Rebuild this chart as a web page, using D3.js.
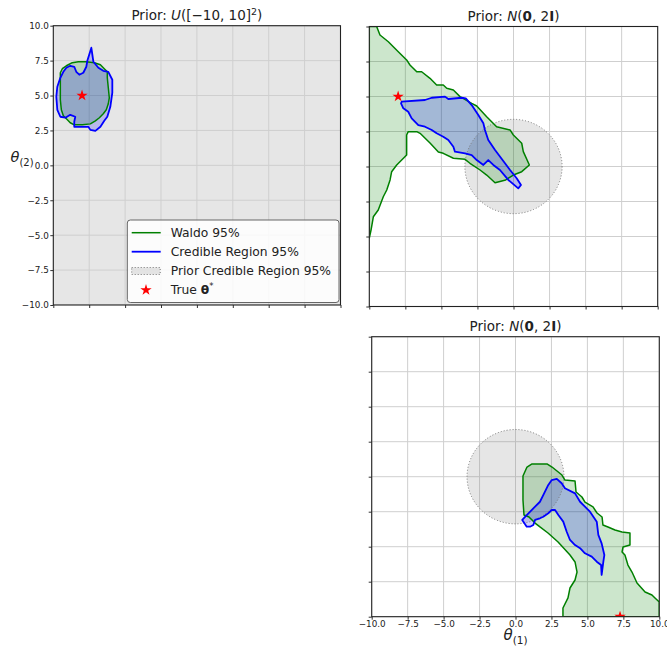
<!DOCTYPE html>
<html>
<head>
<meta charset="utf-8">
<script src="https://cdn.jsdelivr.net/npm/d3@7"></script>
<style>
    body { margin: 0; background: #ffffff; }
    svg text { font-family: "DejaVu Sans", sans-serif; fill: #222; }
</style>
</head>
<body>
<svg id="chart" width="667" height="646"></svg>
<script>
// tick positions shared by every panel (theta in [-10, 10])
var TICKS = [-10, -7.5, -5, -2.5, 0, 2.5, 5, 7.5, 10];
var TICK_LABELS = ["\u221210.0", "\u22127.5", "\u22125.0", "\u22122.5", "0.0", "2.5", "5.0", "7.5", "10.0"];

var LEGEND_LABELS = ["Waldo 95%", "Credible Region 95%", "Prior Credible Region 95%", "True "];

// true parameter per panel
var trueThetaUniform = [-8, 5];
var trueThetaNormalTop = [-8, 5];
var trueThetaNormalBottom = [7.27, -10];

// radius of the 95% region of N(0, 2I)
var priorRadius = 3.37;
var uniformBounds = [-10, 10];

// contours (theta1, theta2)
var waldoUniform = [[-9.51,6.63],[-9.37,6.92],[-9.09,7.13],[-8.68,7.35],[-8.26,7.42],[-7.70,7.42],[-7.14,7.35],
    [-6.72,7.20],[-6.45,6.92],[-6.24,6.70],[-6.24,6.27],[-6.17,5.56],[-6.10,4.84],[-6.17,4.41],[-6.31,3.98],
    [-6.52,3.69],[-6.79,3.41],[-7.07,3.19],[-7.42,2.97],[-7.98,2.90],[-8.54,2.90],[-8.82,3.05],[-9.02,3.26],
    [-9.30,3.55],[-9.44,3.98],[-9.51,4.70],[-9.51,5.56],[-9.51,6.13]];
var credibleUniform = [[-7.35,8.42],[-7.63,7.49],[-7.70,7.06],[-7.91,6.63],[-8.19,6.49],[-8.40,6.70],[-8.54,7.06],
    [-8.82,7.13],[-9.09,6.99],[-9.30,6.70],[-9.51,6.27],[-9.72,5.63],[-9.79,4.91],[-9.72,3.98],[-9.51,3.48],
    [-9.16,3.41],[-8.82,3.62],[-8.47,3.48],[-8.54,3.12],[-8.54,2.76],[-7.56,2.76],[-7.42,2.54],[-7.07,2.47],
    [-6.72,2.76],[-6.45,3.19],[-6.24,3.48],[-6.03,4.19],[-5.89,5.20],[-5.89,6.13],[-6.17,6.70],[-6.52,6.77],
    [-6.86,6.99],[-7.21,7.42],[-7.28,7.92]];

var waldoNormalTop = [[-10,10],[-9.49,10],[-9.26,9.39],[-8.68,8.91],[-7.99,8.20],[-7.41,7.61],[-7.18,7.25],
    [-6.71,6.77],[-6.37,6.77],[-5.79,6.30],[-5.33,5.82],[-4.87,5.82],[-4.63,5.59],[-4.17,5.46],[-3.71,4.99],
    [-2.90,4.51],[-2.55,4.32],[-1.86,3.56],[-1.17,2.84],[-0.24,2.61],[-0.01,2.25],[0.57,1.66],[0.68,1.06],
    [1.10,0.11],[0.57,-0.37],[-0.01,-0.61],[-0.54,-0.96],[-1.28,-1.16],[-1.86,-0.61],[-2.32,-0.25],[-3.02,0.23],
    [-3.36,0.51],[-4.17,0.59],[-4.87,0.94],[-5.21,1.04],[-5.79,1.68],[-6.48,2.37],[-6.71,2.49],[-7.30,2.49],
    [-7.41,2.25],[-7.41,0.82],[-8.10,0.11],[-8.45,-0.37],[-8.56,-0.96],[-8.79,-1.68],[-9.03,-2.16],[-9.38,-3.11],
    [-9.72,-3.59],[-9.88,-4.54],[-10,-5.11]];
var credibleNormalTop = [[-7.80,4.51],[-7.75,4.63],[-6.14,4.75],[-5.67,4.91],[-4.75,4.99],[-4.52,4.82],[-3.59,4.91],
    [-3.31,4.87],[-2.90,4.39],[-2.44,3.68],[-2.09,3.09],[-1.98,2.61],[-1.75,1.89],[-1.28,1.18],[-0.59,0.23],
    [-0.24,-0.25],[0.22,-0.84],[0.52,-1.32],[0.33,-1.56],[-0.36,-0.96],[-0.94,-0.25],[-1.40,0.11],[-1.75,0.46],
    [-2.09,0.11],[-2.55,0.46],[-2.90,0.82],[-3.36,0.94],[-4.06,1.06],[-4.17,1.41],[-4.52,1.89],[-4.87,2.13],
    [-5.33,2.37],[-5.67,2.61],[-6.14,2.84],[-6.60,2.96],[-7.06,3.44],[-7.30,3.91],[-7.64,4.16]];

var waldoNormalBottom = [[0.52,-1.66],[0.52,0.05],[0.80,0.69],[1.15,0.91],[2.19,0.91],[2.54,0.69],[3.23,0.12],
    [3.44,-0.24],[4.14,-0.31],[4.21,-1.09],[4.62,-1.45],[4.83,-1.81],[5.39,-2.16],[5.67,-2.59],[6.02,-2.88],
    [6.08,-3.45],[6.43,-3.59],[6.92,-3.81],[7.41,-3.95],[7.96,-4.02],[7.96,-4.88],[7.48,-5.02],[7.41,-5.38],
    [7.61,-5.59],[7.82,-6.31],[8.10,-6.81],[8.45,-7.59],[9.01,-8.24],[9.49,-8.45],[9.70,-8.66],[10,-8.95],
    [10,-10],[3.30,-10],[3.30,-9.38],[3.65,-8.66],[3.79,-7.95],[4.14,-7.38],[4.28,-6.81],[4.14,-6.09],
    [3.79,-5.59],[2.96,-4.66],[2.26,-4.02],[1.70,-3.59],[1.36,-3.31],[0.94,-2.88],[0.59,-2.74]];
var credibleNormalBottom = [[0.47,-3.09],[0.78,-2.74],[1.36,-2.14],[1.70,-1.79],[1.93,-1.31],[2.28,-0.59],
    [2.52,-0.24],[2.87,-0.16],[3.21,-0.47],[3.44,-0.83],[4.14,-1.19],[4.49,-1.79],[4.83,-2.14],[5.18,-2.50],
    [5.65,-3.21],[5.76,-4.16],[5.99,-4.76],[6.18,-5.59],[6.11,-6.07],[5.99,-7.02],[5.95,-6.31],[5.65,-6.07],
    [5.30,-5.71],[4.83,-5.47],[4.49,-5.11],[4.14,-4.88],[3.79,-4.52],[3.56,-3.93],[3.32,-3.21],[2.98,-2.74],
    [2.75,-2.38],[2.52,-2.38],[2.28,-2.61],[1.93,-2.86],[1.70,-2.97],[1.36,-3.09],[1.24,-3.45],[1.01,-3.57],
    [0.78,-3.57]];

var WALDO_COLOR = "green";
var CREDIBLE_COLOR = "blue";
var PRIOR_FILL = "rgba(128,128,128,0.2)";

var svg = d3.select("#chart");

function drawStar(g, cx, cy) {
    g.append("path")
        .attr("d", d3.symbol().type(d3.symbolStar).size(40)())
        .attr("transform", "translate(" + cx + "," + cy + ")")
        .attr("fill", "red");
}

function drawPanel(cfg) {
    var x = d3.scaleLinear().domain([-10, 10]).range([cfg.left, cfg.right]);
    var y = d3.scaleLinear().domain([-10, 10]).range([cfg.bottom, cfg.top]);
    var line = d3.line().x(function(d) { return x(d[0]); }).y(function(d) { return y(d[1]); });

    svg.append("clipPath").attr("id", "clip-" + cfg.id)
        .append("rect")
        .attr("x", cfg.left).attr("y", cfg.top)
        .attr("width", cfg.right - cfg.left).attr("height", cfg.bottom - cfg.top);

    var g = svg.append("g").attr("clip-path", "url(#clip-" + cfg.id + ")");

    // uniform prior covers the whole box
    if (cfg.uniform) {
        g.append("rect")
            .attr("x", x(uniformBounds[0])).attr("y", y(uniformBounds[1]))
            .attr("width", x(uniformBounds[1]) - x(uniformBounds[0]))
            .attr("height", y(uniformBounds[0]) - y(uniformBounds[1]))
            .attr("fill", PRIOR_FILL);
    }

    // grid
    g.selectAll(".vgrid").data(TICKS).enter().append("line")
        .attr("x1", x).attr("x2", x).attr("y1", cfg.top).attr("y2", cfg.bottom)
        .attr("stroke", "#cfcfcf").attr("stroke-width", 1);
    g.selectAll(".hgrid").data(TICKS).enter().append("line")
        .attr("y1", y).attr("y2", y).attr("x1", cfg.left).attr("x2", cfg.right)
        .attr("stroke", "#cfcfcf").attr("stroke-width", 1);

    var prior = null;
    if (!cfg.uniform) {
        prior = g.append("ellipse")
            .attr("cx", x(0)).attr("cy", y(0))
            .attr("rx", x(priorRadius) - x(0)).attr("ry", y(0) - y(priorRadius))
            .attr("fill", PRIOR_FILL);
    }

    g.append("path").attr("d", line(cfg.waldo) + "Z")
        .attr("fill", "rgba(0,128,0,0.2)").attr("stroke", "none");
    g.append("path").attr("d", line(cfg.credible) + "Z")
        .attr("fill", "rgba(0,0,255,0.2)").attr("stroke", "none");

    if (prior) {
        g.append("ellipse")
            .attr("cx", x(0)).attr("cy", y(0))
            .attr("rx", x(priorRadius) - x(0)).attr("ry", y(0) - y(priorRadius))
            .attr("fill", "none").attr("stroke", "#777")
            .attr("stroke-width", 1).attr("stroke-dasharray", "1,2");
    }

    g.append("path").attr("d", line(cfg.waldo) + "Z")
        .attr("fill", "none").attr("stroke", WALDO_COLOR)
        .attr("stroke-width", 1.5).attr("stroke-linejoin", "round");
    g.append("path").attr("d", line(cfg.credible) + "Z")
        .attr("fill", "none").attr("stroke", CREDIBLE_COLOR)
        .attr("stroke-width", 1.8).attr("stroke-linejoin", "round");

    drawStar(g, x(cfg.truth[0]), y(cfg.truth[1]));

    // axes (ticks only, labels where the original has them)
    var yAxis = d3.axisLeft(y).tickValues(TICKS).tickSize(3).tickPadding(1.5)
        .tickFormat(function(d, i) { return cfg.yLabels ? TICK_LABELS[i] : ""; });
    var xAxis = d3.axisBottom(x).tickValues(TICKS).tickSize(3).tickPadding(1)
        .tickFormat(function(d, i) { return cfg.xLabels ? TICK_LABELS[i] : ""; });

    var ya = svg.append("g").attr("transform", "translate(" + cfg.left + ",0)").call(yAxis);
    var xa = svg.append("g").attr("transform", "translate(0," + cfg.bottom + ")").call(xAxis);
    [ya, xa].forEach(function(a) {
        a.select(".domain").remove();
        a.selectAll(".tick line").attr("stroke", "#333");
        a.selectAll(".tick text").attr("font-size", "8.8px")
            .attr("font-family", "DejaVu Sans").attr("fill", "#222");
    });

    // frame
    svg.append("rect")
        .attr("x", cfg.left).attr("y", cfg.top)
        .attr("width", cfg.right - cfg.left).attr("height", cfg.bottom - cfg.top)
        .attr("fill", "none").attr("stroke", "#222").attr("stroke-width", 1.1);

    // title
    var t = svg.append("text")
        .attr("x", (cfg.left + cfg.right) / 2).attr("y", cfg.top - 5.5)
        .attr("text-anchor", "middle").attr("font-size", "13.5px");
    t.append("tspan").text("Prior: ");
    if (cfg.uniform) {
        t.append("tspan").attr("font-style", "italic").text("U");
        t.append("tspan").text("([\u221210, 10]");
        t.append("tspan").attr("font-size", "9.5px").attr("dy", -5.5).text("2");
        t.append("tspan").attr("dy", 5.5).text(")");
    } else {
        t.append("tspan").attr("font-style", "italic").text("N");
        t.append("tspan").text("(");
        t.append("tspan").attr("font-weight", "bold").text("0");
        t.append("tspan").text(", 2");
        t.append("tspan").attr("font-weight", "bold").text("I");
        t.append("tspan").text(")");
    }
}

var panels = [
    { id: "uniform", left: 53.3, right: 340.5, top: 25.7, bottom: 305, uniform: true,
      waldo: waldoUniform, credible: credibleUniform, truth: trueThetaUniform, yLabels: true, xLabels: false },
    { id: "normalTop", left: 369.3, right: 657.7, top: 26.5, bottom: 306.5, uniform: false,
      waldo: waldoNormalTop, credible: credibleNormalTop, truth: trueThetaNormalTop, yLabels: false, xLabels: false },
    { id: "normalBottom", left: 371.7, right: 659.3, top: 336.7, bottom: 616.7, uniform: false,
      waldo: waldoNormalBottom, credible: credibleNormalBottom, truth: trueThetaNormalBottom, yLabels: false, xLabels: true }
];
panels.forEach(drawPanel);

// axis labels
var yl = svg.append("text").attr("x", 10.5).attr("y", 161.5).attr("font-size", "14.5px");
yl.append("tspan").attr("font-style", "italic").text("\u03b8");
yl.append("tspan").attr("font-size", "10px").attr("dy", 4).text("(2)");

var xl = svg.append("text").attr("x", 515.5).attr("y", 640).attr("text-anchor", "middle").attr("font-size", "15px");
xl.append("tspan").attr("font-style", "italic").text("\u03b8");
xl.append("tspan").attr("font-size", "10.5px").attr("dy", 4).text("(1)");

// legend
var legend = svg.append("g").attr("transform", "translate(127.3,220)");
legend.append("rect")
    .attr("width", 211.7).attr("height", 82.5).attr("rx", 3)
    .attr("fill", "rgba(255,255,255,0.85)").attr("stroke", "#666").attr("stroke-width", 1);

var rowY = [12.7, 31.7, 51, 70];
legend.append("line").attr("x1", 4.4).attr("x2", 33.4).attr("y1", rowY[0]).attr("y2", rowY[0])
    .attr("stroke", WALDO_COLOR).attr("stroke-width", 1.5);
legend.append("line").attr("x1", 4.4).attr("x2", 33.4).attr("y1", rowY[1]).attr("y2", rowY[1])
    .attr("stroke", CREDIBLE_COLOR).attr("stroke-width", 1.8);
legend.append("rect").attr("x", 4.4).attr("y", rowY[2] - 3.5).attr("width", 28.5).attr("height", 7)
    .attr("fill", PRIOR_FILL).attr("stroke", "#777").attr("stroke-width", 1).attr("stroke-dasharray", "1,2");
drawStar(legend, 18.7, rowY[3]);

legend.selectAll(".lab").data(LEGEND_LABELS).enter().append("text")
    .attr("x", 43.4).attr("y", function(d, i) { return rowY[i]; })
    .attr("dy", "0.36em").attr("font-size", "12.3px")
    .each(function(d, i) {
        var el = d3.select(this);
        el.append("tspan").text(d);
        if (i === 3) {
            el.append("tspan").attr("font-weight", "bold").text("\u03b8");
            el.append("tspan").attr("font-size", "8.5px").attr("dy", -5).text("*");
        }
    });
</script>
</body>
</html>
